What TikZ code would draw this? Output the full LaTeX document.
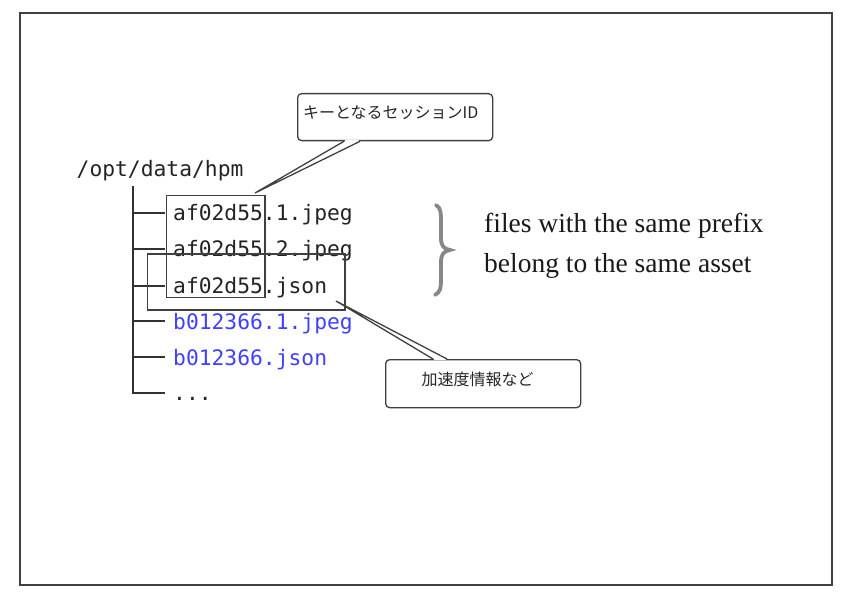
\documentclass[tikz,border=0pt]{standalone}
\usepackage{fontspec}
\setmainfont{Liberation Serif}
\setmonofont{DejaVu Sans Mono}
\newfontfamily\cjk{Noto Sans CJK JP}
\usetikzlibrary{calc}
\definecolor{frameg}{RGB}{64,64,64}
\definecolor{linec}{RGB}{50,50,50}
\definecolor{txtc}{RGB}{35,35,35}
\definecolor{bluec}{RGB}{64,64,255}
\definecolor{braceg}{RGB}{135,135,135}
\tikzset{
  filetxt/.style={inner sep=0pt, anchor=base west, font=\fontsize{21.3}{24}\ttfamily, text=txtc},
  bluetxt/.style={filetxt, text=bluec},
  treeline/.style={draw=linec, line width=1.8pt},
  hlbox/.style={draw=frameg, line width=1.5pt},
  callbox/.style={draw=frameg, fill=white, line width=1.3pt, rounded corners=4pt, anchor=north west,
    font=\fontsize{16}{18}\cjk, text=black!85, align=left},
  pointer/.style={draw=frameg, line width=1.3pt, line join=miter},
  serif/.style={inner sep=0pt, anchor=base west, font=\fontsize{27.5}{30}\selectfont, text=black!90},
}
\begin{document}
\begin{tikzpicture}[x=1pt,y=-1pt]
\useasboundingbox (0,0) rectangle (842,596);
\draw[draw=frameg, line width=2pt] (19.5,13) rectangle (832,585);

% root and files
\node[filetxt] (root) at (76.5,176) {/opt/data/hpm};
\node[filetxt] (f1) at (173,220.5) {af02d55.1.jpeg};
\node[filetxt] (f2) at (173,256.7) {af02d55.2.jpeg};
\node[filetxt] (f3) at (173,293) {af02d55.json};
\node[bluetxt] (f4) at (173,329) {b012366.1.jpeg};
\node[bluetxt] (f5) at (173,365) {b012366.json};
\node[filetxt] (f6) at (173,400) {...};

% tree
\coordinate (trunktop) at (133,185.5);
\coordinate (trunkbot) at (133,393.5);
\draw[treeline] (trunktop) -- (trunkbot);
\foreach \f/\dy in {f1/-7.2, f2/-7.4, f3/-7.3, f4/-8, f5/-8, f6/-7.3}{
  \draw[treeline] (trunkbot |- {$(\f.base west)+(0,\dy)$}) -- ($(\f.base west)+(-8,\dy)$);
}

% highlight boxes
\draw[hlbox] (166.7,195.7) rectangle (265,297.3);
\draw[hlbox] (147.3,254) rectangle (345,310);

% brace
\draw[draw=braceg, line width=3.8pt, line cap=round]
  (436,205) .. controls (441,208) and (441,213) .. (441,222)
  -- (441,238) .. controls (441,246) and (444,249) .. (450,250)
  .. controls (444,251) and (441,254) .. (441,262)
  -- (441,280) .. controls (441,289) and (440,292) .. (435,295);

% side text
\node[serif] (t1) at (484,232) {files with the same prefix};
\node[serif] (t2) at (484,272) {belong to the same asset};

% callout 1
\node[callbox, inner xsep=5.5pt, inner ysep=6pt, text width=184pt, text height=18.6pt, text depth=16.4pt] (key) at (297,93) {キーとなるセッションID};
\coordinate (keytip) at (255,193);
\coordinate (k1) at ($(key.south west)+(47,0)$);
\coordinate (k2) at ($(key.south west)+(63,0)$);
\fill[white] ($(k1)+(0.6,-1.2)$) rectangle ($(k2)+(-0.6,1.2)$);
\draw[pointer] (k1) -- (keytip) -- (k2);

% callout 2
\node[callbox, inner xsep=36pt, inner ysep=6pt, text width=123pt, text height=19.9pt, text depth=16.1pt] (acc) at (385,359) {加速度情報など};
\coordinate (acctip) at (336,301);
\coordinate (a1) at ($(acc.north west)+(48,0)$);
\coordinate (a2) at ($(acc.north west)+(62,0)$);
\fill[white] ($(a1)+(0.6,-1.2)$) rectangle ($(a2)+(-0.6,1.2)$);
\draw[pointer] (a1) -- (acctip) -- (a2);
\end{tikzpicture}
\end{document}
